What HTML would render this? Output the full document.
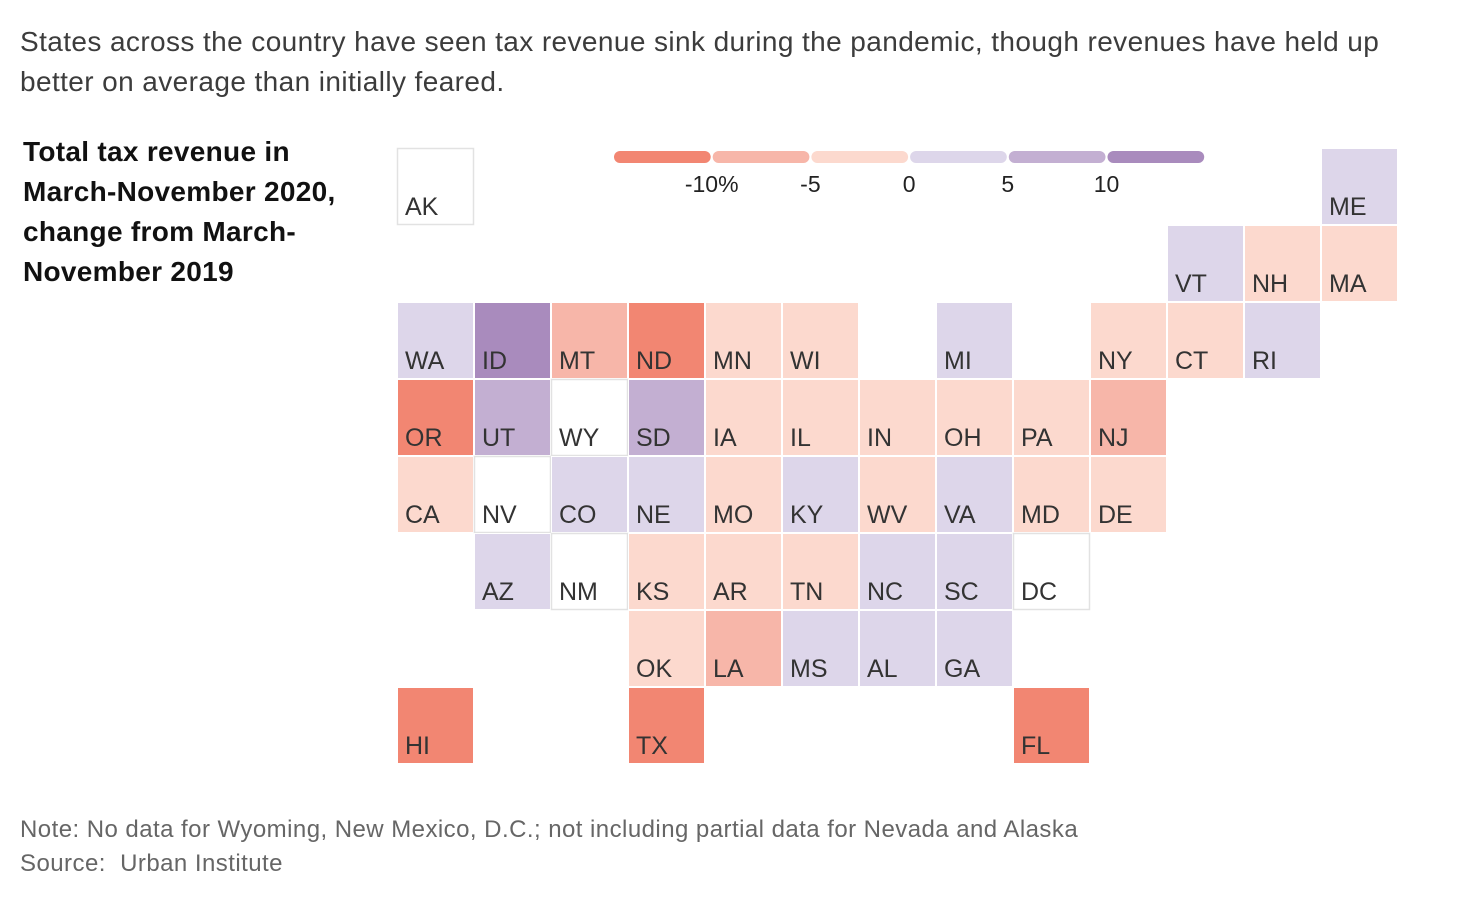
<!DOCTYPE html>
<html><head><meta charset="utf-8">
<style>
body{margin:0;width:1462px;height:918px;background:#fff;font-family:"Liberation Sans",sans-serif;color:#333;position:relative;overflow:hidden}
.t{position:absolute;white-space:nowrap}
#sub{left:20px;top:22px;font-size:28px;line-height:40px;color:#3c3c3c;letter-spacing:0.4px}
#head{left:23px;top:132px;font-size:28px;line-height:40px;font-weight:bold;color:#111;letter-spacing:0.3px}
#note{left:20px;top:813px;font-size:24px;line-height:34px;color:#666;letter-spacing:0.45px}
</style></head><body>
<div class="t" id="sub">States across the country have seen tax revenue sink during the pandemic, though revenues have held up<br>better on average than initially feared.</div>
<div class="t" id="head">Total tax revenue in<br>March-November 2020,<br>change from March-<br>November 2019</div>
<div class="t" id="note">Note: No data for Wyoming, New Mexico, D.C.; not including partial data for Nevada and Alaska<br>Source:&nbsp; Urban Institute</div>
<svg id="map" width="1462" height="918" style="position:absolute;left:0;top:0"></svg>
<script>
const states=["AK","ME","VT","NH","MA","WA","ID","MT","ND","MN","WI","MI","NY","CT","RI","OR","UT","WY","SD","IA","IL","IN","OH","PA","NJ","CA","NV","CO","NE","MO","KY","WV","VA","MD","DE","AZ","NM","KS","AR","TN","NC","SC","DC","OK","LA","MS","AL","GA","HI","TX","FL"];
const values=[null,2,2,-2,-2,2,12,-7,-14,-2,-2,2,-2,-2,2,-13,7,null,7,-2,-2,-2,-2,-2,-7,-2,null,2,2,-2,2,-2,2,-2,-2,2,null,-2,-2,-2,2,2,null,-2,-7,2,2,2,-14,-13,-13];
const cols=[0,12,10,11,12,0,1,2,3,4,5,7,9,10,11,0,1,2,3,4,5,6,7,8,9,0,1,2,3,4,5,6,7,8,9,1,2,3,4,5,6,7,8,3,4,5,6,7,0,3,8];
const rows=[0,0,1,1,1,2,2,2,2,2,2,2,2,2,2,3,3,3,3,3,3,3,3,3,3,4,4,4,4,4,4,4,4,4,4,5,5,5,5,5,5,5,5,6,6,6,6,6,7,7,7];
const binEdges=[-10,-5,0,5,10];
const binColors=["#f28672","#f7b6a9","#fcd9ce","#ddd6ea","#c3afd2","#a98bbd"];
const tickLabels=["-10%","-5","0","5","10"];
const svg=document.getElementById('map');const NS="http://www.w3.org/2000/svg";
const X0=397,Y0=148,S=77;
function colX(c){return X0+c*S}function rowY(r){return Y0+r*S}
function color(v){let i=0;while(i<binEdges.length&&v>=binEdges[i])i++;return binColors[i];}
states.forEach((s,i)=>{
 const g=document.createElementNS(NS,'g');
 
 
 const r=document.createElementNS(NS,'rect');
 const v=values[i];
 r.setAttribute('x',colX(cols[i])+0.5);r.setAttribute('y',rowY(rows[i])+0.5);
 r.setAttribute('width',S-1);r.setAttribute('height',S-1);
 r.setAttribute('fill',v===null?'#fff':color(v));
 r.setAttribute('stroke',v===null?'#e2e2e2':'#fff');r.setAttribute('stroke-width',v===null?1.5:1);
 g.appendChild(r);
 const t=document.createElementNS(NS,'text');
 t.setAttribute('x',colX(cols[i])+8);t.setAttribute('y',rowY(rows[i])+S-10);
 t.setAttribute('font-size','25');t.setAttribute('fill','#333');
 t.setAttribute('font-family','"Liberation Sans",sans-serif');
 t.textContent=s;g.appendChild(t);svg.appendChild(g);
});
const LX=613,LW=98.7;
binColors.forEach((c,i)=>{
 const r=document.createElementNS(NS,'rect');
 
 
 r.setAttribute('x',LX+i*LW+1);r.setAttribute('y',151);r.setAttribute('width',LW-2);r.setAttribute('height',12);
 r.setAttribute('rx',6);r.setAttribute('fill',c);svg.appendChild(r);
});
tickLabels.forEach((l,i)=>{
 const t=document.createElementNS(NS,'text');
 
 
 t.setAttribute('x',LX+(i+1)*LW);t.setAttribute('y',192);t.setAttribute('text-anchor','middle');
 t.setAttribute('font-size','23');t.setAttribute('fill','#222');
 t.setAttribute('font-family','"Liberation Sans",sans-serif');
 t.textContent=l;svg.appendChild(t);
});
</script>
</body></html>
